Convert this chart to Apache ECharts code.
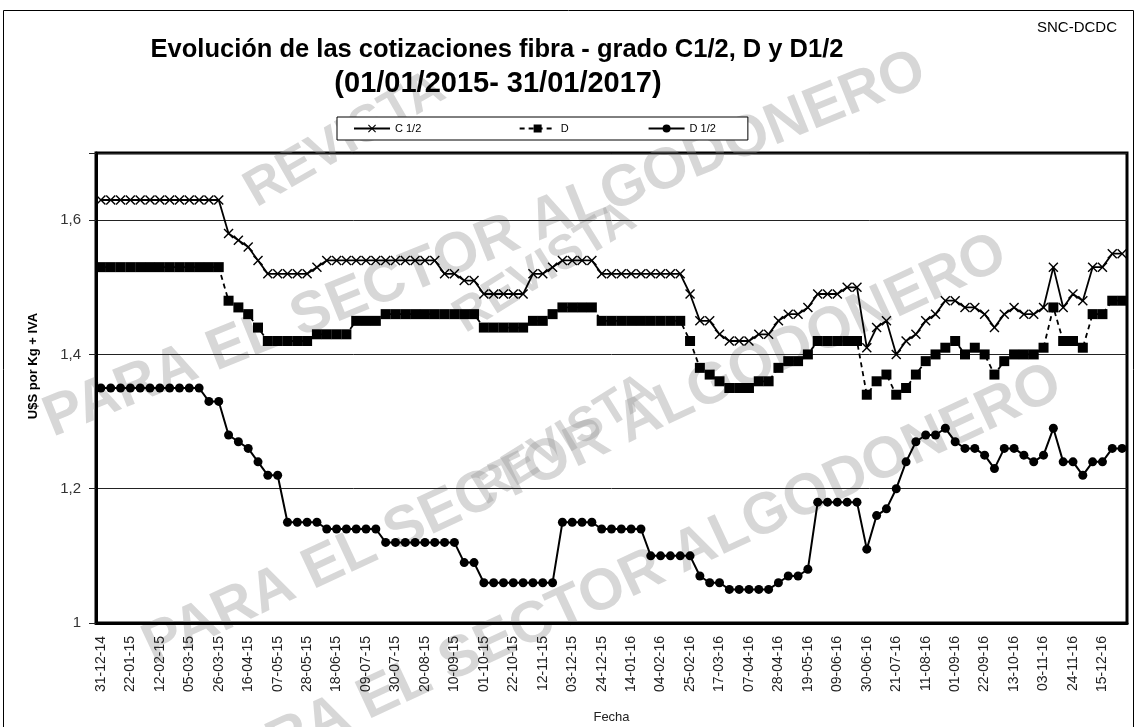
<!DOCTYPE html>
<html>
<head>
<meta charset="UTF-8">
<title></title>
<script src="https://cdn.jsdelivr.net/npm/echarts@6/dist/echarts.min.js"></script>
</head>
<body style="margin:0;background:#fff">
<div id="main" style="width:1137px;height:727px;"></div>
<script type="text/javascript">
// fechas semanales (jueves)
var fechas = [
  '31-12-14','08-01-15','15-01-15','22-01-15','29-01-15','05-02-15','12-02-15','19-02-15','26-02-15','05-03-15',
  '12-03-15','19-03-15','26-03-15','02-04-15','09-04-15','16-04-15','23-04-15','30-04-15','07-05-15','14-05-15',
  '21-05-15','28-05-15','04-06-15','11-06-15','18-06-15','25-06-15','02-07-15','09-07-15','16-07-15','23-07-15',
  '30-07-15','06-08-15','13-08-15','20-08-15','27-08-15','03-09-15','10-09-15','17-09-15','24-09-15','01-10-15',
  '08-10-15','15-10-15','22-10-15','29-10-15','05-11-15','12-11-15','19-11-15','26-11-15','03-12-15','10-12-15',
  '17-12-15','24-12-15','31-12-15','07-01-16','14-01-16','21-01-16','28-01-16','04-02-16','11-02-16','18-02-16',
  '25-02-16','03-03-16','10-03-16','17-03-16','24-03-16','31-03-16','07-04-16','14-04-16','21-04-16','28-04-16',
  '05-05-16','12-05-16','19-05-16','26-05-16','02-06-16','09-06-16','16-06-16','23-06-16','30-06-16','07-07-16',
  '14-07-16','21-07-16','28-07-16','04-08-16','11-08-16','18-08-16','25-08-16','01-09-16','08-09-16','15-09-16',
  '22-09-16','29-09-16','06-10-16','13-10-16','20-10-16','27-10-16','03-11-16','10-11-16','17-11-16','24-11-16',
  '01-12-16','08-12-16','15-12-16','22-12-16','29-12-16'
];

var c12 = [
  1.63,1.63,1.63,1.63,1.63,1.63,1.63,1.63,1.63,1.63,1.63,1.63,1.63,
  1.58,1.57,1.56,1.54,1.52,1.52,1.52,1.52,1.52,1.53,
  1.54,1.54,1.54,1.54,1.54,1.54,1.54,1.54,1.54,1.54,1.54,1.54,
  1.52,1.52,1.51,1.51,1.49,1.49,1.49,1.49,1.49,1.52,1.52,1.53,
  1.54,1.54,1.54,1.54,1.52,1.52,1.52,1.52,1.52,1.52,1.52,1.52,1.52,
  1.49,1.45,1.45,1.43,1.42,1.42,1.42,1.43,1.43,1.45,1.46,1.46,1.47,
  1.49,1.49,1.49,1.50,1.50,1.41,1.44,1.45,1.40,1.42,1.43,1.45,1.46,
  1.48,1.48,1.47,1.47,1.46,1.44,1.46,1.47,1.46,1.46,1.47,1.53,1.47,
  1.49,1.48,1.53,1.53,1.55,1.55
];

var d = [
  1.53,1.53,1.53,1.53,1.53,1.53,1.53,1.53,1.53,1.53,1.53,1.53,1.53,
  1.48,1.47,1.46,1.44,1.42,1.42,1.42,1.42,1.42,
  1.43,1.43,1.43,1.43,1.45,1.45,1.45,
  1.46,1.46,1.46,1.46,1.46,1.46,1.46,1.46,1.46,1.46,
  1.44,1.44,1.44,1.44,1.44,1.45,1.45,1.46,
  1.47,1.47,1.47,1.47,
  1.45,1.45,1.45,1.45,1.45,1.45,1.45,1.45,1.45,
  1.42,1.38,1.37,1.36,1.35,1.35,1.35,1.36,1.36,1.38,1.39,1.39,1.40,
  1.42,1.42,1.42,1.42,1.42,
  1.34,1.36,1.37,1.34,1.35,1.37,1.39,1.40,1.41,1.42,1.40,1.41,1.40,
  1.37,1.39,1.40,1.40,1.40,1.41,1.47,1.42,1.42,1.41,1.46,1.46,1.48,1.48
];

var d12 = [
  1.35,1.35,1.35,1.35,1.35,1.35,1.35,1.35,1.35,1.35,1.35,
  1.33,1.33,1.28,1.27,1.26,1.24,1.22,1.22,
  1.15,1.15,1.15,1.15,
  1.14,1.14,1.14,1.14,1.14,1.14,
  1.12,1.12,1.12,1.12,1.12,1.12,1.12,1.12,
  1.09,1.09,
  1.06,1.06,1.06,1.06,1.06,1.06,1.06,1.06,
  1.15,1.15,1.15,1.15,
  1.14,1.14,1.14,1.14,1.14,
  1.10,1.10,1.10,1.10,1.10,
  1.07,1.06,1.06,
  1.05,1.05,1.05,1.05,1.05,
  1.06,1.07,1.07,1.08,
  1.18,1.18,1.18,1.18,1.18,
  1.11,1.16,1.17,1.20,1.24,1.27,1.28,1.28,1.29,1.27,1.26,1.26,1.25,1.23,
  1.26,1.26,1.25,1.24,1.25,1.29,1.24,1.24,1.22,1.24,1.24,1.26,1.26
];

var nombres = ['C 1/2', 'D', 'D 1/2'];
var yTicks = [1, 1.2, 1.4, 1.6];

var fuente = '"Liberation Sans", Arial, sans-serif';
var cruz = 'path://M0,1L1,0L5,4L9,0L10,1L6,5L10,9L9,10L5,6L1,10L0,9L4,5Z';

// marca de agua
var marcas = [
  { t: 'REVISTA', x: 345, y: 140, r: 30, s: 52 },
  { t: 'PARA EL SECTOR ALGODONERO', x: 485, y: 245, r: 22, s: 58 },
  { t: 'REVISTA', x: 545, y: 268, r: 32, s: 48 },
  { t: 'PARA EL SECTOR ALGODONERO', x: 575, y: 450, r: 25, s: 58 },
  { t: 'REVISTA', x: 565, y: 440, r: 32, s: 48 },
  { t: 'PARA EL SECTOR ALGODONERO', x: 630, y: 580, r: 25, s: 58 }
];

var graficos = marcas.map(function (m) {
  return {
    type: 'text', x: m.x, y: m.y, rotation: m.r * Math.PI / 180, z: 0,
    style: { text: m.t, fill: 'rgba(150,150,150,0.38)', font: 'bold ' + m.s + 'px ' + fuente,
      align: 'center', verticalAlign: 'middle' }
  };
});

graficos.push(
  { type: 'rect', z: 1, shape: { x: 3.5, y: 10.5, width: 1130, height: 740 },
    style: { fill: 'none', stroke: '#000', lineWidth: 1 } },
  { type: 'text', x: 497, y: 50, z: 5,
    style: { text: 'Evolución de las cotizaciones fibra - grado C1/2, D y D1/2', fill: '#000',
      font: 'bold 25.5px ' + fuente, align: 'center', verticalAlign: 'middle' } },
  { type: 'text', x: 498, y: 84, z: 5,
    style: { text: '(01/01/2015- 31/01/2017)', fill: '#000',
      font: 'bold 29px ' + fuente, align: 'center', verticalAlign: 'middle' } },
  { type: 'text', x: 1117, y: 28, z: 5,
    style: { text: 'SNC-DCDC', fill: '#000', font: '15px ' + fuente, align: 'right', verticalAlign: 'middle' } },
  { type: 'text', x: 33, y: 366, z: 5, rotation: Math.PI / 2,
    style: { text: 'U$S por Kg + IVA', fill: '#000', font: 'bold 13px ' + fuente, align: 'center', verticalAlign: 'middle' } }
);

var myChart = echarts.init(document.getElementById('main'));
myChart.setOption({
  animation: false,
  backgroundColor: '#fff',
  textStyle: { fontFamily: fuente },
  graphic: graficos,
  legend: {
    data: nombres,
    left: 337, top: 117,
    padding: [6, 32, 6, 16],
    itemGap: 79, itemWidth: 36, itemHeight: 10,
    borderColor: '#000', borderWidth: 1, backgroundColor: '#fff',
    textStyle: { fontSize: 11, color: '#000' },
    formatter: function (n) { return n === 'C 1/2' ? 'C 1/2      ' : n; }
  },
  grid: {
    left: 96, right: 10, top: 153, bottom: 104,
    outerBoundsMode: 'none',
    show: true, borderColor: '#000', borderWidth: 3
  },
  xAxis: {
    type: 'category', data: fechas, boundaryGap: true,
    name: 'Fecha', nameLocation: 'middle', nameGap: 88,
    nameTextStyle: { fontSize: 13, color: '#222' },
    axisLine: { lineStyle: { color: '#000', width: 3 } },
    axisTick: { length: 4, interval: function (i) { return i % 3 === 2; }, lineStyle: { color: '#000', width: 2 } },
    axisLabel: { interval: 2, rotate: 90, fontSize: 14, color: '#222', margin: 13 },
    splitLine: { show: false }
  },
  yAxis: {
    type: 'value', min: 1, max: 1.7, interval: 0.2,
    axisLine: { show: true, lineStyle: { color: '#000', width: 3 } },
    axisTick: { show: true, length: 7, lineStyle: { color: '#222', width: 1 } },
    axisLabel: {
      fontSize: 15, color: '#333', margin: 15,
      formatter: function (v) {
        if (yTicks.indexOf(Math.round(v * 10) / 10) < 0) return '';
        return v === 1 ? '1' : v.toFixed(1).replace('.', ',');
      }
    },
    splitLine: { lineStyle: { color: '#222', width: 1 } }
  },
  series: [
    {
      name: nombres[0], type: 'line', data: c12, z: 4,
      symbol: cruz, symbolSize: 10, showAllSymbol: true,
      lineStyle: { color: '#000', width: 1.8 },
      itemStyle: { color: '#000' }
    },
    {
      name: nombres[1], type: 'line', data: d, z: 4,
      symbol: 'rect', symbolSize: 10, showAllSymbol: true,
      lineStyle: { color: '#000', width: 1.8, type: [5, 4] },
      itemStyle: { color: '#000' }
    },
    {
      name: nombres[2], type: 'line', data: d12, z: 4,
      symbol: 'circle', symbolSize: 9, showAllSymbol: true,
      lineStyle: { color: '#000', width: 2 },
      itemStyle: { color: '#000' }
    }
  ]
});
</script>
</body>
</html>
